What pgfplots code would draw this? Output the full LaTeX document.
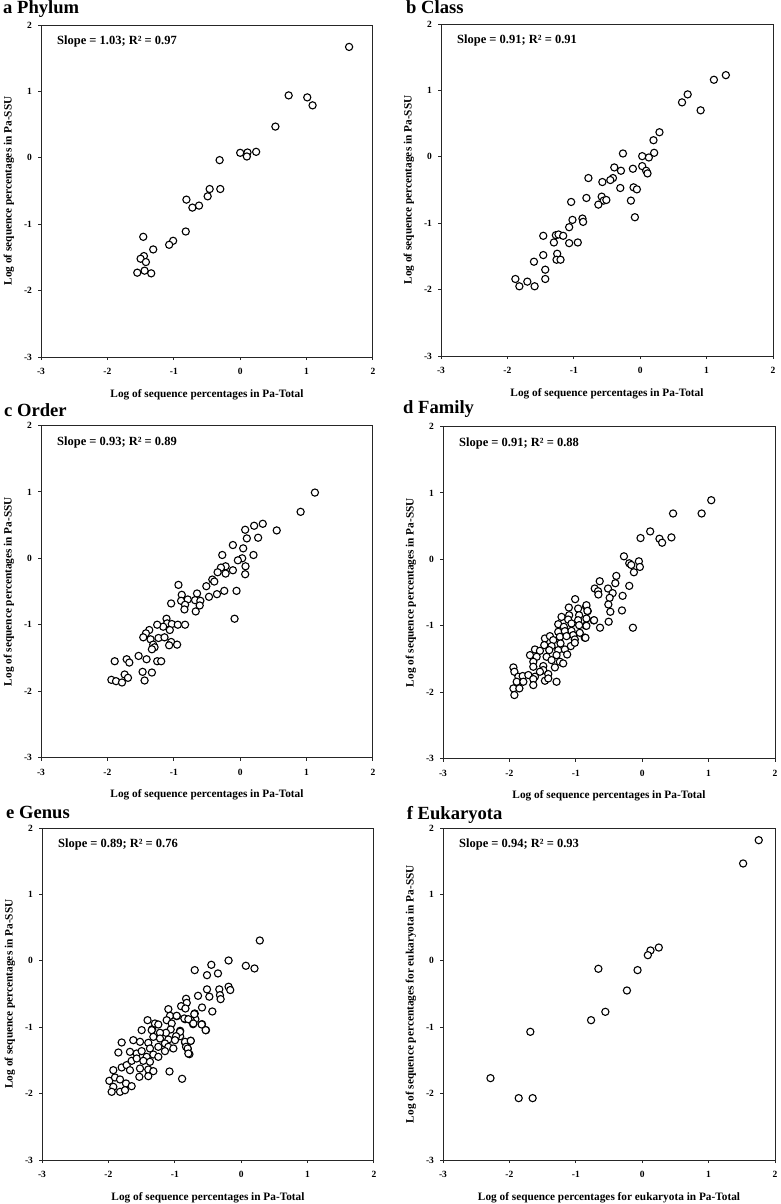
\documentclass[border=0pt]{standalone}
\usepackage{fontspec}
\setmainfont{Liberation Serif}
\usepackage{pgfplots}
\pgfplotsset{compat=1.18}
\pgfplotsset{
  panel/.style={
    width=332pt, height=332pt, scale only axis,
    xmin=-3, xmax=2, ymin=-3, ymax=2,
    xtick={-3,-2,-1,0,1,2}, ytick={-3,-2,-1,0,1,2},
    xticklabels={-3,-2,-1,0,1,2}, yticklabels={-3,-2,-1,0,1,2},
    tick align=outside, tick pos=left, major tick length=3pt,
    axis line style={black!85, line width=1pt},
    every tick/.style={black!85, line width=1pt},
    ticklabel style={font=\bfseries\fontsize{9.5}{10}\selectfont},
    xticklabel style={yshift=-5pt},
    yticklabel style={xshift=-2.5pt},
    every axis x label/.style={at={(axis description cs:0.5,0)}, anchor=center, yshift=-37.5pt, font=\bfseries\fontsize{11.3}{12}\selectfont},
    every axis y label/.style={at={(axis description cs:0,0.5)}, anchor=center, rotate=90, yshift=32pt, font=\bfseries\fontsize{11.3}{12}\selectfont},
    clip=false,
  },
  pts/.style={only marks, mark=*, mark size=3.6pt, mark options={draw=black, fill=white, line width=1.1pt}},
}
\newcommand{\slope}[1]{\node[anchor=base west, font=\bfseries\fontsize{12.5}{13}\selectfont] at (rel axis cs:0.038,0.941) {#1};}
\tikzset{ttl/.style={anchor=base west, font=\bfseries\fontsize{18.6}{19}\selectfont, inner sep=0pt}}
\begin{document}
\begin{tikzpicture}
\path[use as bounding box] (0,0) rectangle (780pt,-1204pt);
\node[ttl] at (3pt,-13.5pt) {a Phylum};
\node[ttl] at (406pt,-13.5pt) {b Class};
\node[ttl] at (4pt,-416.5pt) {c Order};
\node[ttl] at (403pt,-413.5pt) {d Family};
\node[ttl] at (6pt,-818.3pt) {e Genus};
\node[ttl] at (406.7pt,-819.3pt) {f Eukaryota};

% a Phylum
\begin{axis}[panel, at={(41pt,-357pt)}, anchor=south west,
  xlabel={Log of sequence percentages in Pa-Total},
  ylabel={Log of sequence percentages in Pa-SSU}]
\addplot[pts] coordinates {
(1.64,1.67) (0.73,0.94) (1.01,0.91) (1.09,0.79) (0.53,0.47) (0.0,0.075) (0.11,0.08) (0.10,0.02) (0.24,0.09)
(-0.31,-0.035) (-0.30,-0.47) (-0.46,-0.47) (-0.49,-0.58) (-0.81,-0.63) (-0.72,-0.75) (-0.62,-0.72)
(-0.82,-1.11) (-1.01,-1.25) (-1.07,-1.31) (-1.31,-1.38) (-1.46,-1.19) (-1.45,-1.48) (-1.50,-1.52)
(-1.42,-1.57) (-1.55,-1.73) (-1.44,-1.70) (-1.34,-1.74)
};
\slope{Slope = 1.03; R² = 0.97}
\end{axis}

% b Class
\begin{axis}[panel, at={(441pt,-356pt)}, anchor=south west,
  xlabel={Log of sequence percentages in Pa-Total},
  ylabel={Log of sequence percentages in Pa-SSU}]
\addplot[pts] coordinates {
(1.29,1.23) (1.11,1.16) (0.715,0.94) (0.63,0.82) (0.91,0.70) (0.29,0.37) (0.20,0.25) (0.21,0.06)
(0.13,-0.01) (0.03,0.01) (0.03,-0.14) (0.09,-0.21) (0.11,-0.25) (-0.26,0.05) (-0.39,-0.16) (-0.29,-0.21)
(-0.11,-0.18) (-0.41,-0.32) (-0.45,-0.35) (-0.57,-0.38) (-0.78,-0.32) (-0.30,-0.47) (-0.10,-0.46)
(-0.05,-0.49) (-0.14,-0.66) (-0.08,-0.91) (-0.58,-0.60) (-0.81,-0.62) (-0.55,-0.66) (-0.51,-0.65)
(-0.63,-0.72) (-1.04,-0.68) (-1.02,-0.95) (-0.87,-0.93) (-0.86,-0.98) (-1.07,-1.06) (-1.46,-1.19)
(-1.27,-1.18) (-1.23,-1.17) (-1.16,-1.19) (-1.30,-1.29) (-1.07,-1.30) (-0.94,-1.29) (-1.25,-1.46)
(-1.26,-1.55) (-1.20,-1.55) (-1.46,-1.48) (-1.60,-1.58) (-1.43,-1.70) (-1.43,-1.84) (-1.88,-1.84)
(-1.82,-1.95) (-1.70,-1.88) (-1.59,-1.95)
};
\slope{Slope = 0.91; R² = 0.91}
\end{axis}

% c Order
\begin{axis}[panel, at={(41pt,-757.5pt)}, anchor=south west,
  xlabel={Log of sequence percentages in Pa-Total},
  ylabel={Log of sequence percentages in Pa-SSU}]
\addplot[pts] coordinates {
(1.125,0.99) (0.91,0.70) (0.55,0.42) (0.34,0.52) (0.21,0.49) (0.075,0.43) (0.10,0.30) (0.27,0.31)
(-0.11,0.20) (0.045,0.15) (0.20,0.05) (-0.27,0.05) (0.03,0.00) (-0.035,-0.03) (0.08,-0.12) (0.075,-0.24)
(-0.11,-0.18) (-0.22,-0.12) (-0.22,-0.23) (-0.29,-0.14) (-0.34,-0.21) (-0.42,-0.32) (-0.39,-0.35)
(-0.51,-0.42) (-0.24,-0.49) (-0.055,-0.49) (-0.35,-0.54) (-0.47,-0.58) (-0.65,-0.53) (-0.68,-0.63)
(-0.60,-0.64) (-0.61,-0.71) (-0.67,-0.80) (-0.93,-0.40) (-0.88,-0.55) (-0.89,-0.64) (-0.79,-0.62)
(-0.83,-0.70) (-0.84,-0.77) (-1.04,-0.68) (-0.085,-0.91) (-1.11,-0.91) (-1.10,-0.98) (-1.03,-0.99)
(-0.94,-1.00) (-0.83,-1.00) (-1.16,-1.03) (-1.25,-1.00) (-1.37,-1.08) (-1.42,-1.13) (-1.46,-1.19)
(-1.35,-1.22) (-1.23,-1.20) (-1.14,-1.19) (-1.06,-1.08) (-1.04,-1.26) (-1.07,-1.31) (-0.95,-1.30)
(-1.31,-1.30) (-1.29,-1.34) (-1.33,-1.37) (-1.53,-1.47) (-1.71,-1.52) (-1.41,-1.52) (-1.25,-1.55)
(-1.19,-1.55) (-1.89,-1.55) (-1.67,-1.57) (-1.47,-1.71) (-1.33,-1.72) (-1.74,-1.75) (-1.69,-1.80)
(-1.94,-1.83) (-1.87,-1.85) (-1.78,-1.87) (-1.44,-1.84)
};
\slope{Slope = 0.93; R² = 0.89}
\end{axis}

% d Family
\begin{axis}[panel, at={(443pt,-758.5pt)}, anchor=south west,
  xlabel={Log of sequence percentages in Pa-Total},
  ylabel={Log of sequence percentages in Pa-SSU}]
\addplot[pts] coordinates {
(1.04,0.89) (0.895,0.69) (0.465,0.69) (0.44,0.33) (0.12,0.42) (-0.025,0.32) (0.26,0.31) (0.30,0.25)
(-0.275,0.045) (-0.05,-0.03) (-0.195,-0.06) (-0.165,-0.085) (-0.035,-0.115) (-0.125,-0.195)
(-0.39,-0.25) (-0.405,-0.36) (-0.195,-0.40) (-0.64,-0.33) (-0.715,-0.44) (-0.665,-0.48) (-0.66,-0.53)
(-0.515,-0.44) (-0.445,-0.51) (-0.49,-0.58) (-0.295,-0.55) (-0.51,-0.68) (-0.48,-0.79) (-0.305,-0.77)
(-0.14,-1.03) (-0.505,-0.94) (-0.635,-1.03) (-1.01,-0.60) (-0.845,-0.71) (-0.82,-0.78) (-0.73,-0.92)
(-0.85,-1.0) (-0.865,-1.18)
(-1.105,-0.726) (-0.965,-0.742) (-0.84,-0.691) (-0.825,-0.777) (-1.215,-0.867) (-1.10,-0.842)
(-0.95,-0.842) (-1.115,-0.907) (-0.965,-0.917) (-0.84,-0.892) (-0.725,-0.917) (-1.265,-0.977)
(-1.18,-1.017) (-1.065,-0.967) (-0.95,-0.992) (-0.84,-1.002) (-1.265,-1.092) (-1.165,-1.082)
(-1.065,-1.077) (-0.94,-1.107) (-1.04,-1.142) (-1.465,-1.192) (-1.39,-1.157) (-1.34,-1.217)
(-1.24,-1.167) (-1.14,-1.157) (-1.015,-1.207) (-0.855,-1.182) (-1.475,-1.292) (-1.365,-1.307)
(-1.23,-1.267) (-1.075,-1.307) (-1.015,-1.257) (-1.615,-1.358) (-1.54,-1.378) (-1.40,-1.368)
(-1.265,-1.368) (-1.165,-1.358) (-1.69,-1.443) (-1.59,-1.468) (-1.44,-1.468) (-1.29,-1.443)
(-1.13,-1.433) (-1.64,-1.543) (-1.49,-1.608) (-1.365,-1.518) (-1.24,-1.543) (-1.19,-1.568)
(-1.94,-1.628) (-1.925,-1.693) (-1.64,-1.618) (-1.49,-1.668) (-1.315,-1.628) (-1.415,-1.728)
(-1.865,-1.768) (-1.80,-1.758) (-1.715,-1.743) (-1.615,-1.768) (-1.54,-1.693) (-1.89,-1.844)
(-1.79,-1.844) (-1.64,-1.804) (-1.465,-1.829) (-1.29,-1.844) (-1.415,-1.794) (-1.94,-1.944)
(-1.85,-1.944) (-1.64,-1.894) (-1.925,-2.044)
};
\slope{Slope = 0.91; R² = 0.88}
\end{axis}

% e Genus
\begin{axis}[panel, at={(42pt,-1160pt)}, anchor=south west,
  xlabel={Log of sequence percentages in Pa-Total},
  ylabel={Log of sequence percentages in Pa-SSU}]
\addplot[pts] coordinates {
(0.28,0.306) (-0.19,0.005) (0.07,-0.075) (0.20,-0.115) (-0.45,-0.06) (-0.70,-0.14) (-0.515,-0.216)
(-0.35,-0.19) (-0.19,-0.39) (-0.165,-0.44) (-0.33,-0.43) (-0.32,-0.517) (-0.31,-0.577) (-0.515,-0.43)
(-0.48,-0.54) (-0.65,-0.527) (-0.435,-0.763) (-0.59,-0.703) (-0.83,-0.572) (-0.82,-0.633)
(-0.905,-0.683) (-0.84,-0.718) (-0.59,-0.954) (-0.53,-1.044) (-0.70,-0.793) (-0.69,-0.879)
(-0.725,-0.954) (-0.76,-0.894) (-0.845,-0.879) (-0.97,-0.833) (-0.92,-1.054) (-0.92,-1.135)
(-0.76,-1.205) (-0.845,-1.23) (-0.805,-1.325) (-0.78,-1.406) (-0.89,-1.777) (-1.08,-1.667)
(-1.41,-0.894) (-1.34,-1.03)
(-1.097,-0.728) (-1.072,-0.828) (-0.972,-0.828) (-0.856,-0.868) (-0.796,-0.879) (-0.706,-0.803)
(-0.721,-0.944) (-0.595,-0.959) (-0.535,-1.044) (-1.299,-0.944) (-1.248,-0.959) (-1.122,-0.894)
(-1.047,-0.944) (-1.062,-1.034) (-1.133,-1.084) (-0.921,-1.069) (-0.981,-1.135) (-1.499,-1.044)
(-1.348,-1.044) (-1.223,-1.084) (-1.323,-1.145) (-1.223,-1.170) (-1.097,-1.185) (-0.997,-1.195)
(-0.846,-1.220) (-0.760,-1.205) (-0.831,-1.295) (-0.806,-1.320) (-0.796,-1.396) (-1.800,-1.230)
(-1.625,-1.195) (-1.524,-1.220) (-1.399,-1.235) (-1.374,-1.320) (-1.248,-1.295) (-1.148,-1.245)
(-1.097,-1.295) (-1.022,-1.320) (-1.148,-1.360) (-1.850,-1.381) (-1.675,-1.371) (-1.574,-1.396)
(-1.499,-1.360) (-1.424,-1.446) (-1.323,-1.411) (-1.248,-1.446) (-1.474,-1.506) (-1.374,-1.521)
(-1.926,-1.647) (-1.800,-1.606) (-1.725,-1.571) (-1.650,-1.506) (-1.574,-1.471) (-1.524,-1.622)
(-1.399,-1.637) (-1.323,-1.662) (-1.675,-1.647) (-1.534,-1.747) (-1.399,-1.737) (-1.986,-1.807)
(-1.901,-1.757) (-1.825,-1.787) (-1.735,-1.847) (-1.650,-1.888) (-1.926,-1.898) (-1.825,-1.973)
(-1.951,-1.973) (-1.750,-1.948)
};
\slope{Slope = 0.89; R² = 0.76}
\end{axis}

% f Eukaryota
\begin{axis}[panel, at={(443pt,-1160pt)}, anchor=south west,
  xlabel={Log of sequence percentages for eukaryota in Pa-Total},
  ylabel={Log of sequence percentages for eukaryota in Pa-SSU}]
\addplot[pts] coordinates {
(1.755,1.817) (1.52,1.466) (0.25,0.20) (0.125,0.156) (0.085,0.085) (-0.07,-0.14) (-0.66,-0.12)
(-0.23,-0.447) (-0.555,-0.768) (-0.77,-0.894) (-1.685,-1.069) (-2.285,-1.767) (-1.86,-2.068)
(-1.65,-2.068)
};
\slope{Slope = 0.94; R² = 0.93}
\end{axis}
\end{tikzpicture}
\end{document}
